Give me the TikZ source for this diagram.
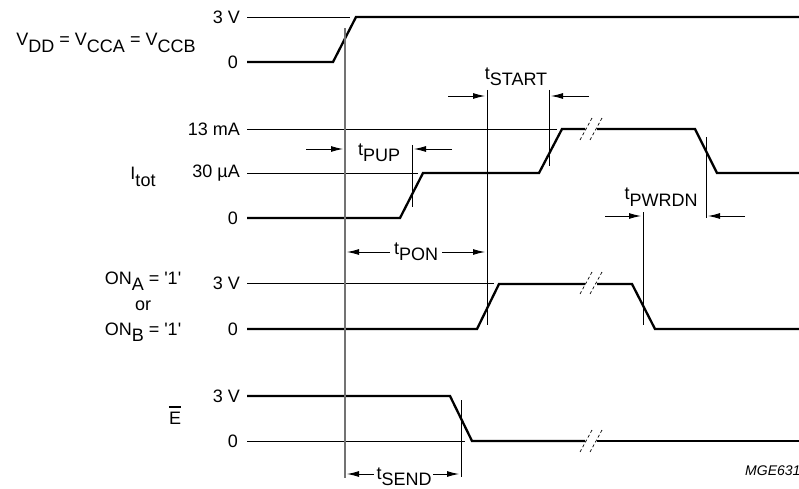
\documentclass[tikz,border=0pt]{standalone}
\usepackage{fontspec}
\setmainfont{Liberation Sans}
\usetikzlibrary{arrows.meta}
\newcommand\lowsub[1]{\raisebox{-0.36em}{#1}}
\newcommand\sq{\textquotesingle}
\begin{document}
\begin{tikzpicture}[x=1pt,y=-1pt,
 sig/.style={line width=2.3pt, line join=miter},
 refl/.style={line width=0.9pt},
 vl/.style={line width=1.1pt, draw=black!55},
 dim/.style={line width=0.9pt, -{Latex[length=12pt,width=6pt]}},
 lbl/.style={font=\fontsize{18}{20}\selectfont, inner sep=0pt},
 lev/.style={lbl, anchor=east},
 brk/.style={line width=0.7pt, dash pattern=on 3pt off 2.5pt}]
\useasboundingbox (0,0) rectangle (799,489);
\newcommand\brkmark[1]{\draw[brk] (580,#1+11) -- (592,#1-11); \draw[brk] (590,#1+11) -- (602,#1-11);}

% ---------- VDD ----------
\node[lbl] (vdd) at (106,43) {V\lowsub{DD} = V\lowsub{CCA} = V\lowsub{CCB}};
\node[lev] (v3) at (240,17) {3 V};
\node[lev] (v0) at (238,62) {0};
\draw[refl] (247,17) -- (350,17);
\draw[sig] (247,62) -- (333,62) -- (356,17) -- (799,17);

% ---------- Itot ----------
\node[lbl] (itot) at (143,177) {I\lowsub{tot}};
\node[lev] (i13) at (240,129) {13 mA};
\node[lev] (i30) at (240,173) {30 µA};
\node[lev] (i0) at (238,218) {0};
\draw[refl] (247,129) -- (557,129);
\draw[refl] (247,173) -- (418,173);
\draw[sig] (247,218) -- (400,218) -- (423,173) -- (539,173) -- (562,129) -- (585,129);
\draw[sig] (597,129) -- (695,129) -- (717,173) -- (799,173);
\brkmark{129}

% ---------- ON ----------
\node[lbl] (ona) at (143,281) {ON\lowsub{A} = \sq1\sq};
\node[lbl] (or) at (143,306) {or};
\node[lbl] (onb) at (143,332) {ON\lowsub{B} = \sq1\sq};
\node[lev] (o3) at (240,283) {3 V};
\node[lev] (o0) at (238,329) {0};
\draw[refl] (247,283) -- (494,283);
\draw[sig] (247,329) -- (477,329) -- (499,284) -- (585,284);
\draw[sig] (597,284) -- (632,284) -- (655,329) -- (799,329);
\brkmark{283}

% ---------- E ----------
\node[lbl] (ebar) at (175,418) {E};
\draw[line width=1.3pt] ([yshift=4.5pt]ebar.north west) -- ([yshift=4.5pt]ebar.north east);
\node[lev] (e3) at (240,396) {3 V};
\node[lev] (e0) at (238,441) {0};
\draw[refl] (247,441) -- (465,441);
\draw[sig] (247,396) -- (450,396) -- (472,441) -- (585,441);
\draw[sig] (597,441) -- (799,441);
\brkmark{441}

% ---------- vertical markers ----------
\draw[vl] (345,28) -- (345,478);
\draw[refl] (412,145) -- (412,207);
\draw[refl] (487,90) -- (487,325);
\draw[refl] (549,90) -- (549,166);
\draw[refl] (643,212) -- (643,325);
\draw[refl] (706,137) -- (706,218);
\draw[refl] (461,400) -- (461,477);

% ---------- timing annotations ----------
\node[lbl] (tpup) at (379,153) {t\lowsub{PUP}};
\draw[dim] (306,149) -- (343,149);
\draw[dim] (452,149) -- (414,149);

\node[lbl] (tstart) at (516,77) {t\lowsub{START}};
\draw[dim] (448,96) -- (485,96);
\draw[dim] (589,96) -- (551,96);

\node[lbl] (tpwrdn) at (661,197) {t\lowsub{PWRDN}};
\draw[dim] (605,216) -- (641,216);
\draw[dim] (745,216) -- (708,216);

\node[lbl] (tpon) at (416,252) {t\lowsub{PON}};
\draw[dim] (390,252) -- (347,252);
\draw[dim] (442,252) -- (485,252);

\node[lbl] (tsend) at (404,477) {t\lowsub{SEND}};
\draw[dim] (374,474) -- (347,474);
\draw[dim] (433,474) -- (459,474);

\node[font=\fontsize{14}{16}\selectfont\itshape, inner sep=0pt, anchor=west] (mge) at (745,471) {MGE631};
\end{tikzpicture}
\end{document}
